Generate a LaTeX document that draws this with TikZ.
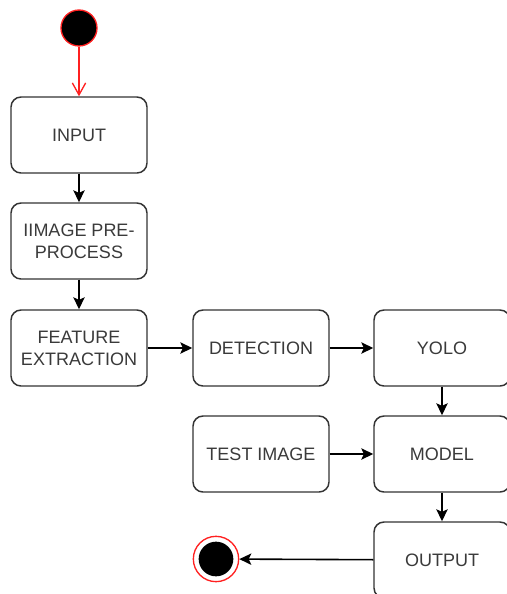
\documentclass[tikz,border=0pt]{standalone}
\usepackage{fontspec}
\setmainfont{Liberation Sans}
\usetikzlibrary{arrows.meta}
\definecolor{edge}{HTML}{333333}
\definecolor{txt}{HTML}{3A3A3A}
\definecolor{startred}{HTML}{FF2020}
\begin{document}
\begin{tikzpicture}[x=0.75pt,y=-0.75pt,
  box/.style={draw=edge,line width=1.1pt,rounded corners=7.5pt,minimum width=102pt,minimum height=57pt,
    align=center,text=txt,font=\fontsize{13.5}{16.5}\selectfont,inner sep=2pt},
  flow/.style={draw=black,line width=1.2pt,-{Stealth[length=9pt,width=8.5pt,inset=2pt]}},
  redflow/.style={draw=startred,line width=1pt,-{Straight Barb[length=9pt,width=10pt]}}]
\useasboundingbox (0,0) rectangle (507,594);
\fill[white] (0,0) rectangle (507,594);
\clip (0,0) rectangle (507,594);
\node[circle,draw=startred,fill=black,line width=1pt,minimum size=27pt,inner sep=0pt] (start) at (79,28) {};
\node[box] (input) at (79,135) {INPUT};
\node[box] (pre) at (79,241) {IIMAGE PRE-\\PROCESS};
\node[box] (feat) at (79,348) {FEATURE\\EXTRACTION};
\node[box] (det) at (261,348) {DETECTION};
\node[box] (yolo) at (442,348) {YOLO};
\node[box] (test) at (261,454) {TEST IMAGE};
\node[box] (model) at (442,454) {MODEL};
\node[box] (output) at (442,560) {OUTPUT};
\node[circle,draw=startred,line width=1pt,minimum size=34pt,inner sep=0pt] (end) at (216,559) {};
\fill[black] (end.center) circle (13pt);
\draw[redflow] (start) -- (input);
\draw[flow] (input) -- (pre);
\draw[flow] (pre) -- (feat);
\draw[flow] (feat) -- (det);
\draw[flow] (det) -- (yolo);
\draw[flow] (yolo) -- (model);
\draw[flow] (test) -- (model);
\draw[flow] (model) -- (output);
\draw[flow] (output) -- (end);
\end{tikzpicture}
\end{document}
